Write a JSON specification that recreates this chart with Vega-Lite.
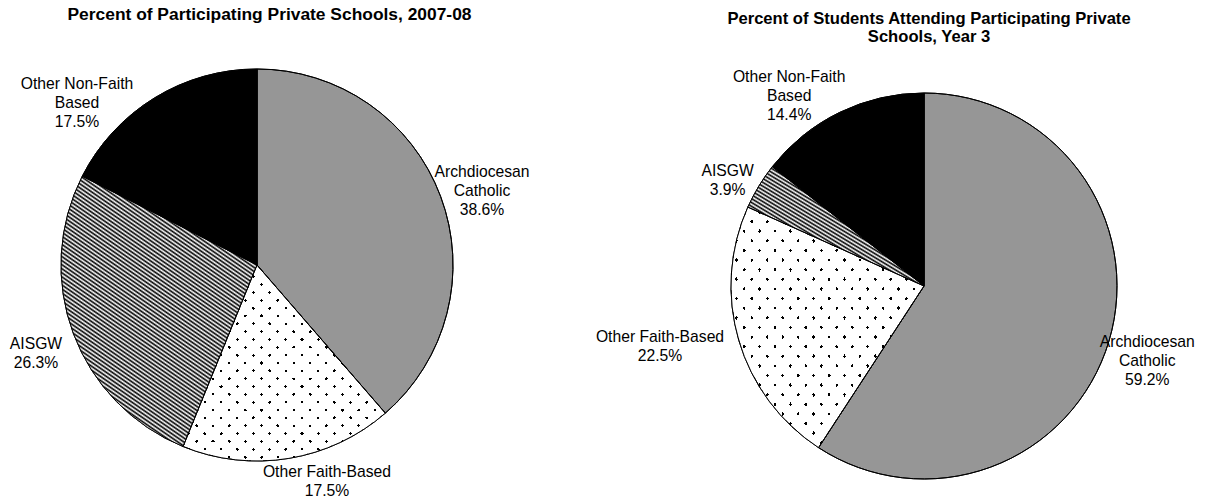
{
 "$schema": "https://vega.github.io/schema/vega-lite/v6.json",
 "padding": {"left": 0, "top": 5, "right": 0, "bottom": 0},
 "background": "white",
 "spacing": 104,
 "bounds": "flush",
 "config": {
  "view": {"stroke": null},
  "title": {"font": "Liberation Sans", "fontWeight": "bold", "color": "#000000", "anchor": "middle"}
 },
 "hconcat": [
  {
   "width": 514, "height": 390,
   "title": {"text": "Percent of Participating Private Schools, 2007-08", "fontSize": 17.4, "offset": 44, "dx": 12.5},
   "data": {"values": [
    {"cat": "Archdiocesan Catholic", "label": "Archdiocesan\nCatholic\n38.6%", "value": 38.6, "ord": 1},
    {"cat": "Other Faith-Based", "label": "Other Faith-Based\n17.5%", "value": 17.5, "ord": 2},
    {"cat": "AISGW", "label": "AISGW\n26.3%", "value": 26.3, "ord": 3},
    {"cat": "Other Non-Faith Based", "label": "Other Non-Faith\nBased\n17.5%", "value": 17.5, "ord": 4}
   ]},
   "encoding": {
    "theta": {"field": "value", "type": "quantitative", "stack": true},
    "order": {"field": "ord", "type": "quantitative"}
   },
   "layer": [
    {"mark": {"type": "arc", "outerRadius": 196, "stroke": "#000000", "strokeWidth": 1},
     "encoding": {"fill": {"condition": [{"test": "datum.cat === 'Archdiocesan Catholic'", "value": "#969696"}, {"test": "datum.cat === 'Other Non-Faith Based'", "value": "#000000"}], "value": "#ffffff"}}},
    {"mark": {"type": "arc", "outerRadius": 196, "strokeWidth": 0,
      "fill": {"gradient": "linear", "x1": 0.2, "y1": 1.1, "x2": 0.8, "y2": -0.1, "stops": [
       {"offset":0,"color":"#000"},{"offset":0.005,"color":"#fff"},{"offset":0.01,"color":"#000"},{"offset":0.015,"color":"#fff"},{"offset":0.02,"color":"#000"},{"offset":0.025,"color":"#fff"},{"offset":0.03,"color":"#000"},{"offset":0.035,"color":"#fff"},{"offset":0.04,"color":"#000"},{"offset":0.045,"color":"#fff"},{"offset":0.05,"color":"#000"},{"offset":0.055,"color":"#fff"},{"offset":0.06,"color":"#000"},{"offset":0.065,"color":"#fff"},{"offset":0.07,"color":"#000"},{"offset":0.075,"color":"#fff"},{"offset":0.08,"color":"#000"},{"offset":0.085,"color":"#fff"},{"offset":0.09,"color":"#000"},{"offset":0.095,"color":"#fff"},
       {"offset":0.1,"color":"#000"},{"offset":0.105,"color":"#fff"},{"offset":0.11,"color":"#000"},{"offset":0.115,"color":"#fff"},{"offset":0.12,"color":"#000"},{"offset":0.125,"color":"#fff"},{"offset":0.13,"color":"#000"},{"offset":0.135,"color":"#fff"},{"offset":0.14,"color":"#000"},{"offset":0.145,"color":"#fff"},{"offset":0.15,"color":"#000"},{"offset":0.155,"color":"#fff"},{"offset":0.16,"color":"#000"},{"offset":0.165,"color":"#fff"},{"offset":0.17,"color":"#000"},{"offset":0.175,"color":"#fff"},{"offset":0.18,"color":"#000"},{"offset":0.185,"color":"#fff"},{"offset":0.19,"color":"#000"},{"offset":0.195,"color":"#fff"},
       {"offset":0.2,"color":"#000"},{"offset":0.205,"color":"#fff"},{"offset":0.21,"color":"#000"},{"offset":0.215,"color":"#fff"},{"offset":0.22,"color":"#000"},{"offset":0.225,"color":"#fff"},{"offset":0.23,"color":"#000"},{"offset":0.235,"color":"#fff"},{"offset":0.24,"color":"#000"},{"offset":0.245,"color":"#fff"},{"offset":0.25,"color":"#000"},{"offset":0.255,"color":"#fff"},{"offset":0.26,"color":"#000"},{"offset":0.265,"color":"#fff"},{"offset":0.27,"color":"#000"},{"offset":0.275,"color":"#fff"},{"offset":0.28,"color":"#000"},{"offset":0.285,"color":"#fff"},{"offset":0.29,"color":"#000"},{"offset":0.295,"color":"#fff"},
       {"offset":0.3,"color":"#000"},{"offset":0.305,"color":"#fff"},{"offset":0.31,"color":"#000"},{"offset":0.315,"color":"#fff"},{"offset":0.32,"color":"#000"},{"offset":0.325,"color":"#fff"},{"offset":0.33,"color":"#000"},{"offset":0.335,"color":"#fff"},{"offset":0.34,"color":"#000"},{"offset":0.345,"color":"#fff"},{"offset":0.35,"color":"#000"},{"offset":0.355,"color":"#fff"},{"offset":0.36,"color":"#000"},{"offset":0.365,"color":"#fff"},{"offset":0.37,"color":"#000"},{"offset":0.375,"color":"#fff"},{"offset":0.38,"color":"#000"},{"offset":0.385,"color":"#fff"},{"offset":0.39,"color":"#000"},{"offset":0.395,"color":"#fff"},
       {"offset":0.4,"color":"#000"},{"offset":0.405,"color":"#fff"},{"offset":0.41,"color":"#000"},{"offset":0.415,"color":"#fff"},{"offset":0.42,"color":"#000"},{"offset":0.425,"color":"#fff"},{"offset":0.43,"color":"#000"},{"offset":0.435,"color":"#fff"},{"offset":0.44,"color":"#000"},{"offset":0.445,"color":"#fff"},{"offset":0.45,"color":"#000"},{"offset":0.455,"color":"#fff"},{"offset":0.46,"color":"#000"},{"offset":0.465,"color":"#fff"},{"offset":0.47,"color":"#000"},{"offset":0.475,"color":"#fff"},{"offset":0.48,"color":"#000"},{"offset":0.485,"color":"#fff"},{"offset":0.49,"color":"#000"},{"offset":0.495,"color":"#fff"},
       {"offset":0.5,"color":"#000"},{"offset":0.505,"color":"#fff"},{"offset":0.51,"color":"#000"},{"offset":0.515,"color":"#fff"},{"offset":0.52,"color":"#000"},{"offset":0.525,"color":"#fff"},{"offset":0.53,"color":"#000"},{"offset":0.535,"color":"#fff"},{"offset":0.54,"color":"#000"},{"offset":0.545,"color":"#fff"},{"offset":0.55,"color":"#000"},{"offset":0.555,"color":"#fff"},{"offset":0.56,"color":"#000"},{"offset":0.565,"color":"#fff"},{"offset":0.57,"color":"#000"},{"offset":0.575,"color":"#fff"},{"offset":0.58,"color":"#000"},{"offset":0.585,"color":"#fff"},{"offset":0.59,"color":"#000"},{"offset":0.595,"color":"#fff"},
       {"offset":0.6,"color":"#000"},{"offset":0.605,"color":"#fff"},{"offset":0.61,"color":"#000"},{"offset":0.615,"color":"#fff"},{"offset":0.62,"color":"#000"},{"offset":0.625,"color":"#fff"},{"offset":0.63,"color":"#000"},{"offset":0.635,"color":"#fff"},{"offset":0.64,"color":"#000"},{"offset":0.645,"color":"#fff"},{"offset":0.65,"color":"#000"},{"offset":0.655,"color":"#fff"},{"offset":0.66,"color":"#000"},{"offset":0.665,"color":"#fff"},{"offset":0.67,"color":"#000"},{"offset":0.675,"color":"#fff"},{"offset":0.68,"color":"#000"},{"offset":0.685,"color":"#fff"},{"offset":0.69,"color":"#000"},{"offset":0.695,"color":"#fff"},
       {"offset":0.7,"color":"#000"},{"offset":0.705,"color":"#fff"},{"offset":0.71,"color":"#000"},{"offset":0.715,"color":"#fff"},{"offset":0.72,"color":"#000"},{"offset":0.725,"color":"#fff"},{"offset":0.73,"color":"#000"},{"offset":0.735,"color":"#fff"},{"offset":0.74,"color":"#000"},{"offset":0.745,"color":"#fff"},{"offset":0.75,"color":"#000"},{"offset":0.755,"color":"#fff"},{"offset":0.76,"color":"#000"},{"offset":0.765,"color":"#fff"},{"offset":0.77,"color":"#000"},{"offset":0.775,"color":"#fff"},{"offset":0.78,"color":"#000"},{"offset":0.785,"color":"#fff"},{"offset":0.79,"color":"#000"},{"offset":0.795,"color":"#fff"},
       {"offset":0.8,"color":"#000"},{"offset":0.805,"color":"#fff"},{"offset":0.81,"color":"#000"},{"offset":0.815,"color":"#fff"},{"offset":0.82,"color":"#000"},{"offset":0.825,"color":"#fff"},{"offset":0.83,"color":"#000"},{"offset":0.835,"color":"#fff"},{"offset":0.84,"color":"#000"},{"offset":0.845,"color":"#fff"},{"offset":0.85,"color":"#000"},{"offset":0.855,"color":"#fff"},{"offset":0.86,"color":"#000"},{"offset":0.865,"color":"#fff"},{"offset":0.87,"color":"#000"},{"offset":0.875,"color":"#fff"},{"offset":0.88,"color":"#000"},{"offset":0.885,"color":"#fff"},{"offset":0.89,"color":"#000"},{"offset":0.895,"color":"#fff"},
       {"offset":0.9,"color":"#000"},{"offset":0.905,"color":"#fff"},{"offset":0.91,"color":"#000"},{"offset":0.915,"color":"#fff"},{"offset":0.92,"color":"#000"},{"offset":0.925,"color":"#fff"},{"offset":0.93,"color":"#000"},{"offset":0.935,"color":"#fff"},{"offset":0.94,"color":"#000"},{"offset":0.945,"color":"#fff"},{"offset":0.95,"color":"#000"},{"offset":0.955,"color":"#fff"},{"offset":0.96,"color":"#000"},{"offset":0.965,"color":"#fff"},{"offset":0.97,"color":"#000"},{"offset":0.975,"color":"#fff"},{"offset":0.98,"color":"#000"},{"offset":0.985,"color":"#fff"},{"offset":0.99,"color":"#000"},{"offset":0.995,"color":"#fff"},
       {"offset":1,"color":"#000"}
      ]}},
     "encoding": {"fillOpacity": {"condition": {"test": "datum.cat === 'AISGW'", "value": 1}, "value": 0}}},
    {"mark": {"type": "arc", "outerRadius": 196, "strokeWidth": 0,
      "fill": {"gradient": "linear", "x1": 0, "y1": 0, "x2": 1, "y2": 1, "stops": [
       {"offset":0,"color":"#000"},{"offset":0.008,"color":"#000"},{"offset":0.008,"color":"rgba(0,0,0,0)"},{"offset":0.04,"color":"rgba(0,0,0,0)"},
       {"offset":0.04,"color":"#000"},{"offset":0.048,"color":"#000"},{"offset":0.048,"color":"rgba(0,0,0,0)"},{"offset":0.08,"color":"rgba(0,0,0,0)"},
       {"offset":0.08,"color":"#000"},{"offset":0.088,"color":"#000"},{"offset":0.088,"color":"rgba(0,0,0,0)"},{"offset":0.12,"color":"rgba(0,0,0,0)"},
       {"offset":0.12,"color":"#000"},{"offset":0.128,"color":"#000"},{"offset":0.128,"color":"rgba(0,0,0,0)"},{"offset":0.16,"color":"rgba(0,0,0,0)"},
       {"offset":0.16,"color":"#000"},{"offset":0.168,"color":"#000"},{"offset":0.168,"color":"rgba(0,0,0,0)"},{"offset":0.2,"color":"rgba(0,0,0,0)"},
       {"offset":0.2,"color":"#000"},{"offset":0.208,"color":"#000"},{"offset":0.208,"color":"rgba(0,0,0,0)"},{"offset":0.24,"color":"rgba(0,0,0,0)"},
       {"offset":0.24,"color":"#000"},{"offset":0.248,"color":"#000"},{"offset":0.248,"color":"rgba(0,0,0,0)"},{"offset":0.28,"color":"rgba(0,0,0,0)"},
       {"offset":0.28,"color":"#000"},{"offset":0.288,"color":"#000"},{"offset":0.288,"color":"rgba(0,0,0,0)"},{"offset":0.32,"color":"rgba(0,0,0,0)"},
       {"offset":0.32,"color":"#000"},{"offset":0.328,"color":"#000"},{"offset":0.328,"color":"rgba(0,0,0,0)"},{"offset":0.36,"color":"rgba(0,0,0,0)"},
       {"offset":0.36,"color":"#000"},{"offset":0.368,"color":"#000"},{"offset":0.368,"color":"rgba(0,0,0,0)"},{"offset":0.4,"color":"rgba(0,0,0,0)"},
       {"offset":0.4,"color":"#000"},{"offset":0.408,"color":"#000"},{"offset":0.408,"color":"rgba(0,0,0,0)"},{"offset":0.44,"color":"rgba(0,0,0,0)"},
       {"offset":0.44,"color":"#000"},{"offset":0.448,"color":"#000"},{"offset":0.448,"color":"rgba(0,0,0,0)"},{"offset":0.48,"color":"rgba(0,0,0,0)"},
       {"offset":0.48,"color":"#000"},{"offset":0.488,"color":"#000"},{"offset":0.488,"color":"rgba(0,0,0,0)"},{"offset":0.52,"color":"rgba(0,0,0,0)"},
       {"offset":0.52,"color":"#000"},{"offset":0.528,"color":"#000"},{"offset":0.528,"color":"rgba(0,0,0,0)"},{"offset":0.56,"color":"rgba(0,0,0,0)"},
       {"offset":0.56,"color":"#000"},{"offset":0.568,"color":"#000"},{"offset":0.568,"color":"rgba(0,0,0,0)"},{"offset":0.6,"color":"rgba(0,0,0,0)"},
       {"offset":0.6,"color":"#000"},{"offset":0.608,"color":"#000"},{"offset":0.608,"color":"rgba(0,0,0,0)"},{"offset":0.64,"color":"rgba(0,0,0,0)"},
       {"offset":0.64,"color":"#000"},{"offset":0.648,"color":"#000"},{"offset":0.648,"color":"rgba(0,0,0,0)"},{"offset":0.68,"color":"rgba(0,0,0,0)"},
       {"offset":0.68,"color":"#000"},{"offset":0.688,"color":"#000"},{"offset":0.688,"color":"rgba(0,0,0,0)"},{"offset":0.72,"color":"rgba(0,0,0,0)"},
       {"offset":0.72,"color":"#000"},{"offset":0.728,"color":"#000"},{"offset":0.728,"color":"rgba(0,0,0,0)"},{"offset":0.76,"color":"rgba(0,0,0,0)"},
       {"offset":0.76,"color":"#000"},{"offset":0.768,"color":"#000"},{"offset":0.768,"color":"rgba(0,0,0,0)"},{"offset":0.8,"color":"rgba(0,0,0,0)"},
       {"offset":0.8,"color":"#000"},{"offset":0.808,"color":"#000"},{"offset":0.808,"color":"rgba(0,0,0,0)"},{"offset":0.84,"color":"rgba(0,0,0,0)"},
       {"offset":0.84,"color":"#000"},{"offset":0.848,"color":"#000"},{"offset":0.848,"color":"rgba(0,0,0,0)"},{"offset":0.88,"color":"rgba(0,0,0,0)"},
       {"offset":0.88,"color":"#000"},{"offset":0.888,"color":"#000"},{"offset":0.888,"color":"rgba(0,0,0,0)"},{"offset":0.92,"color":"rgba(0,0,0,0)"},
       {"offset":0.92,"color":"#000"},{"offset":0.928,"color":"#000"},{"offset":0.928,"color":"rgba(0,0,0,0)"},{"offset":0.96,"color":"rgba(0,0,0,0)"},
       {"offset":0.96,"color":"#000"},{"offset":0.968,"color":"#000"},{"offset":0.968,"color":"rgba(0,0,0,0)"},{"offset":1,"color":"rgba(0,0,0,0)"}
      ]}},
     "encoding": {"fillOpacity": {"condition": {"test": "datum.cat === 'Other Faith-Based'", "value": 1}, "value": 0}}},
    {"mark": {"type": "arc", "outerRadius": 196, "strokeWidth": 0,
      "fill": {"gradient": "linear", "x1": 0, "y1": 1, "x2": 1, "y2": 0, "stops": [
       {"offset":0,"color":"rgba(255,255,255,0)"},{"offset":0.008,"color":"rgba(255,255,255,0)"},{"offset":0.008,"color":"#fff"},{"offset":0.04,"color":"#fff"},
       {"offset":0.04,"color":"rgba(255,255,255,0)"},{"offset":0.048,"color":"rgba(255,255,255,0)"},{"offset":0.048,"color":"#fff"},{"offset":0.08,"color":"#fff"},
       {"offset":0.08,"color":"rgba(255,255,255,0)"},{"offset":0.088,"color":"rgba(255,255,255,0)"},{"offset":0.088,"color":"#fff"},{"offset":0.12,"color":"#fff"},
       {"offset":0.12,"color":"rgba(255,255,255,0)"},{"offset":0.128,"color":"rgba(255,255,255,0)"},{"offset":0.128,"color":"#fff"},{"offset":0.16,"color":"#fff"},
       {"offset":0.16,"color":"rgba(255,255,255,0)"},{"offset":0.168,"color":"rgba(255,255,255,0)"},{"offset":0.168,"color":"#fff"},{"offset":0.2,"color":"#fff"},
       {"offset":0.2,"color":"rgba(255,255,255,0)"},{"offset":0.208,"color":"rgba(255,255,255,0)"},{"offset":0.208,"color":"#fff"},{"offset":0.24,"color":"#fff"},
       {"offset":0.24,"color":"rgba(255,255,255,0)"},{"offset":0.248,"color":"rgba(255,255,255,0)"},{"offset":0.248,"color":"#fff"},{"offset":0.28,"color":"#fff"},
       {"offset":0.28,"color":"rgba(255,255,255,0)"},{"offset":0.288,"color":"rgba(255,255,255,0)"},{"offset":0.288,"color":"#fff"},{"offset":0.32,"color":"#fff"},
       {"offset":0.32,"color":"rgba(255,255,255,0)"},{"offset":0.328,"color":"rgba(255,255,255,0)"},{"offset":0.328,"color":"#fff"},{"offset":0.36,"color":"#fff"},
       {"offset":0.36,"color":"rgba(255,255,255,0)"},{"offset":0.368,"color":"rgba(255,255,255,0)"},{"offset":0.368,"color":"#fff"},{"offset":0.4,"color":"#fff"},
       {"offset":0.4,"color":"rgba(255,255,255,0)"},{"offset":0.408,"color":"rgba(255,255,255,0)"},{"offset":0.408,"color":"#fff"},{"offset":0.44,"color":"#fff"},
       {"offset":0.44,"color":"rgba(255,255,255,0)"},{"offset":0.448,"color":"rgba(255,255,255,0)"},{"offset":0.448,"color":"#fff"},{"offset":0.48,"color":"#fff"},
       {"offset":0.48,"color":"rgba(255,255,255,0)"},{"offset":0.488,"color":"rgba(255,255,255,0)"},{"offset":0.488,"color":"#fff"},{"offset":0.52,"color":"#fff"},
       {"offset":0.52,"color":"rgba(255,255,255,0)"},{"offset":0.528,"color":"rgba(255,255,255,0)"},{"offset":0.528,"color":"#fff"},{"offset":0.56,"color":"#fff"},
       {"offset":0.56,"color":"rgba(255,255,255,0)"},{"offset":0.568,"color":"rgba(255,255,255,0)"},{"offset":0.568,"color":"#fff"},{"offset":0.6,"color":"#fff"},
       {"offset":0.6,"color":"rgba(255,255,255,0)"},{"offset":0.608,"color":"rgba(255,255,255,0)"},{"offset":0.608,"color":"#fff"},{"offset":0.64,"color":"#fff"},
       {"offset":0.64,"color":"rgba(255,255,255,0)"},{"offset":0.648,"color":"rgba(255,255,255,0)"},{"offset":0.648,"color":"#fff"},{"offset":0.68,"color":"#fff"},
       {"offset":0.68,"color":"rgba(255,255,255,0)"},{"offset":0.688,"color":"rgba(255,255,255,0)"},{"offset":0.688,"color":"#fff"},{"offset":0.72,"color":"#fff"},
       {"offset":0.72,"color":"rgba(255,255,255,0)"},{"offset":0.728,"color":"rgba(255,255,255,0)"},{"offset":0.728,"color":"#fff"},{"offset":0.76,"color":"#fff"},
       {"offset":0.76,"color":"rgba(255,255,255,0)"},{"offset":0.768,"color":"rgba(255,255,255,0)"},{"offset":0.768,"color":"#fff"},{"offset":0.8,"color":"#fff"},
       {"offset":0.8,"color":"rgba(255,255,255,0)"},{"offset":0.808,"color":"rgba(255,255,255,0)"},{"offset":0.808,"color":"#fff"},{"offset":0.84,"color":"#fff"},
       {"offset":0.84,"color":"rgba(255,255,255,0)"},{"offset":0.848,"color":"rgba(255,255,255,0)"},{"offset":0.848,"color":"#fff"},{"offset":0.88,"color":"#fff"},
       {"offset":0.88,"color":"rgba(255,255,255,0)"},{"offset":0.888,"color":"rgba(255,255,255,0)"},{"offset":0.888,"color":"#fff"},{"offset":0.92,"color":"#fff"},
       {"offset":0.92,"color":"rgba(255,255,255,0)"},{"offset":0.928,"color":"rgba(255,255,255,0)"},{"offset":0.928,"color":"#fff"},{"offset":0.96,"color":"#fff"},
       {"offset":0.96,"color":"rgba(255,255,255,0)"},{"offset":0.968,"color":"rgba(255,255,255,0)"},{"offset":0.968,"color":"#fff"},{"offset":1,"color":"#fff"}
      ]}},
     "encoding": {"fillOpacity": {"condition": {"test": "datum.cat === 'Other Faith-Based'", "value": 1}, "value": 0}}},
    {"mark": {"type": "arc", "outerRadius": 196, "fillOpacity": 0, "stroke": "#000000", "strokeWidth": 1}},
    {"mark": {"type": "text", "radius": 170, "dx": 65.7, "dy": -33.6, "lineBreak": "\n", "font": "Liberation Sans", "fontSize": 15.7, "lineHeight": 19, "align": "center", "baseline": "middle", "color": "#000000"},
     "encoding": {"text": {"field": "label", "type": "nominal"}, "opacity": {"condition": {"test": "datum.cat === 'Archdiocesan Catholic'", "value": 1}, "value": 0}}},
    {"mark": {"type": "text", "radius": 210, "dx": 35.8, "dy": -0.2, "lineBreak": "\n", "font": "Liberation Sans", "fontSize": 15.7, "lineHeight": 19, "align": "center", "baseline": "middle", "color": "#000000"},
     "encoding": {"text": {"field": "label", "type": "nominal"}, "opacity": {"condition": {"test": "datum.cat === 'Other Faith-Based'", "value": 1}, "value": 0}}},
    {"mark": {"type": "text", "radius": 200, "dx": -33.6, "dy": 9.1, "lineBreak": "\n", "font": "Liberation Sans", "fontSize": 15.7, "lineHeight": 19, "align": "center", "baseline": "middle", "color": "#000000"},
     "encoding": {"text": {"field": "label", "type": "nominal"}, "opacity": {"condition": {"test": "datum.cat === 'AISGW'", "value": 1}, "value": 0}}},
    {"mark": {"type": "text", "radius": 110, "dx": -122.5, "dy": -86.8, "lineBreak": "\n", "font": "Liberation Sans", "fontSize": 15.7, "lineHeight": 19, "align": "center", "baseline": "middle", "color": "#000000"},
     "encoding": {"text": {"field": "label", "type": "nominal"}, "opacity": {"condition": {"test": "datum.cat === 'Other Non-Faith Based'", "value": 1}, "value": 0}}}
   ]
  },
  {
   "width": 612, "height": 432,
   "title": {"text": ["Percent of Students Attending Participating Private", "Schools, Year 3"], "fontSize": 16.6, "lineHeight": 18, "offset": 23, "dx": 5},
   "data": {"values": [
    {"cat": "Archdiocesan Catholic", "label": "Archdiocesan\nCatholic\n59.2%", "value": 59.2, "ord": 1},
    {"cat": "Other Faith-Based", "label": "Other Faith-Based\n22.5%", "value": 22.5, "ord": 2},
    {"cat": "AISGW", "label": "AISGW\n3.9%", "value": 3.9, "ord": 3},
    {"cat": "Other Non-Faith Based", "label": "Other Non-Faith\nBased\n14.4%", "value": 14.4, "ord": 4}
   ]},
   "encoding": {
    "theta": {"field": "value", "type": "quantitative", "stack": true},
    "order": {"field": "ord", "type": "quantitative"}
   },
   "layer": [
    {"mark": {"type": "arc", "outerRadius": 193, "stroke": "#000000", "strokeWidth": 1},
     "encoding": {"fill": {"condition": [{"test": "datum.cat === 'Archdiocesan Catholic'", "value": "#969696"}, {"test": "datum.cat === 'Other Non-Faith Based'", "value": "#000000"}], "value": "#ffffff"}}},
    {"mark": {"type": "arc", "outerRadius": 193, "strokeWidth": 0,
      "fill": {"gradient": "linear", "x1": 0.1, "y1": 0.95, "x2": 0.9, "y2": 0.05, "stops": [
       {"offset":0,"color":"#000"},{"offset":0.01,"color":"#fff"},{"offset":0.02,"color":"#000"},{"offset":0.03,"color":"#fff"},{"offset":0.04,"color":"#000"},{"offset":0.05,"color":"#fff"},{"offset":0.06,"color":"#000"},{"offset":0.07,"color":"#fff"},{"offset":0.08,"color":"#000"},{"offset":0.09,"color":"#fff"},
       {"offset":0.1,"color":"#000"},{"offset":0.11,"color":"#fff"},{"offset":0.12,"color":"#000"},{"offset":0.13,"color":"#fff"},{"offset":0.14,"color":"#000"},{"offset":0.15,"color":"#fff"},{"offset":0.16,"color":"#000"},{"offset":0.17,"color":"#fff"},{"offset":0.18,"color":"#000"},{"offset":0.19,"color":"#fff"},
       {"offset":0.2,"color":"#000"},{"offset":0.21,"color":"#fff"},{"offset":0.22,"color":"#000"},{"offset":0.23,"color":"#fff"},{"offset":0.24,"color":"#000"},{"offset":0.25,"color":"#fff"},{"offset":0.26,"color":"#000"},{"offset":0.27,"color":"#fff"},{"offset":0.28,"color":"#000"},{"offset":0.29,"color":"#fff"},
       {"offset":0.3,"color":"#000"},{"offset":0.31,"color":"#fff"},{"offset":0.32,"color":"#000"},{"offset":0.33,"color":"#fff"},{"offset":0.34,"color":"#000"},{"offset":0.35,"color":"#fff"},{"offset":0.36,"color":"#000"},{"offset":0.37,"color":"#fff"},{"offset":0.38,"color":"#000"},{"offset":0.39,"color":"#fff"},
       {"offset":0.4,"color":"#000"},{"offset":0.41,"color":"#fff"},{"offset":0.42,"color":"#000"},{"offset":0.43,"color":"#fff"},{"offset":0.44,"color":"#000"},{"offset":0.45,"color":"#fff"},{"offset":0.46,"color":"#000"},{"offset":0.47,"color":"#fff"},{"offset":0.48,"color":"#000"},{"offset":0.49,"color":"#fff"},
       {"offset":0.5,"color":"#000"},{"offset":0.51,"color":"#fff"},{"offset":0.52,"color":"#000"},{"offset":0.53,"color":"#fff"},{"offset":0.54,"color":"#000"},{"offset":0.55,"color":"#fff"},{"offset":0.56,"color":"#000"},{"offset":0.57,"color":"#fff"},{"offset":0.58,"color":"#000"},{"offset":0.59,"color":"#fff"},
       {"offset":0.6,"color":"#000"},{"offset":0.61,"color":"#fff"},{"offset":0.62,"color":"#000"},{"offset":0.63,"color":"#fff"},{"offset":0.64,"color":"#000"},{"offset":0.65,"color":"#fff"},{"offset":0.66,"color":"#000"},{"offset":0.67,"color":"#fff"},{"offset":0.68,"color":"#000"},{"offset":0.69,"color":"#fff"},
       {"offset":0.7,"color":"#000"},{"offset":0.71,"color":"#fff"},{"offset":0.72,"color":"#000"},{"offset":0.73,"color":"#fff"},{"offset":0.74,"color":"#000"},{"offset":0.75,"color":"#fff"},{"offset":0.76,"color":"#000"},{"offset":0.77,"color":"#fff"},{"offset":0.78,"color":"#000"},{"offset":0.79,"color":"#fff"},
       {"offset":0.8,"color":"#000"},{"offset":0.81,"color":"#fff"},{"offset":0.82,"color":"#000"},{"offset":0.83,"color":"#fff"},{"offset":0.84,"color":"#000"},{"offset":0.85,"color":"#fff"},{"offset":0.86,"color":"#000"},{"offset":0.87,"color":"#fff"},{"offset":0.88,"color":"#000"},{"offset":0.89,"color":"#fff"},
       {"offset":0.9,"color":"#000"},{"offset":0.91,"color":"#fff"},{"offset":0.92,"color":"#000"},{"offset":0.93,"color":"#fff"},{"offset":0.94,"color":"#000"},{"offset":0.95,"color":"#fff"},{"offset":0.96,"color":"#000"},{"offset":0.97,"color":"#fff"},{"offset":0.98,"color":"#000"},{"offset":0.99,"color":"#fff"},
       {"offset":1,"color":"#000"}
      ]}},
     "encoding": {"fillOpacity": {"condition": {"test": "datum.cat === 'AISGW'", "value": 1}, "value": 0}}},
    {"mark": {"type": "arc", "outerRadius": 193, "strokeWidth": 0,
      "fill": {"gradient": "linear", "x1": 0, "y1": 0, "x2": 1, "y2": 1, "stops": [
       {"offset":0,"color":"#000"},{"offset":0.008,"color":"#000"},{"offset":0.008,"color":"rgba(0,0,0,0)"},{"offset":0.04,"color":"rgba(0,0,0,0)"},
       {"offset":0.04,"color":"#000"},{"offset":0.048,"color":"#000"},{"offset":0.048,"color":"rgba(0,0,0,0)"},{"offset":0.08,"color":"rgba(0,0,0,0)"},
       {"offset":0.08,"color":"#000"},{"offset":0.088,"color":"#000"},{"offset":0.088,"color":"rgba(0,0,0,0)"},{"offset":0.12,"color":"rgba(0,0,0,0)"},
       {"offset":0.12,"color":"#000"},{"offset":0.128,"color":"#000"},{"offset":0.128,"color":"rgba(0,0,0,0)"},{"offset":0.16,"color":"rgba(0,0,0,0)"},
       {"offset":0.16,"color":"#000"},{"offset":0.168,"color":"#000"},{"offset":0.168,"color":"rgba(0,0,0,0)"},{"offset":0.2,"color":"rgba(0,0,0,0)"},
       {"offset":0.2,"color":"#000"},{"offset":0.208,"color":"#000"},{"offset":0.208,"color":"rgba(0,0,0,0)"},{"offset":0.24,"color":"rgba(0,0,0,0)"},
       {"offset":0.24,"color":"#000"},{"offset":0.248,"color":"#000"},{"offset":0.248,"color":"rgba(0,0,0,0)"},{"offset":0.28,"color":"rgba(0,0,0,0)"},
       {"offset":0.28,"color":"#000"},{"offset":0.288,"color":"#000"},{"offset":0.288,"color":"rgba(0,0,0,0)"},{"offset":0.32,"color":"rgba(0,0,0,0)"},
       {"offset":0.32,"color":"#000"},{"offset":0.328,"color":"#000"},{"offset":0.328,"color":"rgba(0,0,0,0)"},{"offset":0.36,"color":"rgba(0,0,0,0)"},
       {"offset":0.36,"color":"#000"},{"offset":0.368,"color":"#000"},{"offset":0.368,"color":"rgba(0,0,0,0)"},{"offset":0.4,"color":"rgba(0,0,0,0)"},
       {"offset":0.4,"color":"#000"},{"offset":0.408,"color":"#000"},{"offset":0.408,"color":"rgba(0,0,0,0)"},{"offset":0.44,"color":"rgba(0,0,0,0)"},
       {"offset":0.44,"color":"#000"},{"offset":0.448,"color":"#000"},{"offset":0.448,"color":"rgba(0,0,0,0)"},{"offset":0.48,"color":"rgba(0,0,0,0)"},
       {"offset":0.48,"color":"#000"},{"offset":0.488,"color":"#000"},{"offset":0.488,"color":"rgba(0,0,0,0)"},{"offset":0.52,"color":"rgba(0,0,0,0)"},
       {"offset":0.52,"color":"#000"},{"offset":0.528,"color":"#000"},{"offset":0.528,"color":"rgba(0,0,0,0)"},{"offset":0.56,"color":"rgba(0,0,0,0)"},
       {"offset":0.56,"color":"#000"},{"offset":0.568,"color":"#000"},{"offset":0.568,"color":"rgba(0,0,0,0)"},{"offset":0.6,"color":"rgba(0,0,0,0)"},
       {"offset":0.6,"color":"#000"},{"offset":0.608,"color":"#000"},{"offset":0.608,"color":"rgba(0,0,0,0)"},{"offset":0.64,"color":"rgba(0,0,0,0)"},
       {"offset":0.64,"color":"#000"},{"offset":0.648,"color":"#000"},{"offset":0.648,"color":"rgba(0,0,0,0)"},{"offset":0.68,"color":"rgba(0,0,0,0)"},
       {"offset":0.68,"color":"#000"},{"offset":0.688,"color":"#000"},{"offset":0.688,"color":"rgba(0,0,0,0)"},{"offset":0.72,"color":"rgba(0,0,0,0)"},
       {"offset":0.72,"color":"#000"},{"offset":0.728,"color":"#000"},{"offset":0.728,"color":"rgba(0,0,0,0)"},{"offset":0.76,"color":"rgba(0,0,0,0)"},
       {"offset":0.76,"color":"#000"},{"offset":0.768,"color":"#000"},{"offset":0.768,"color":"rgba(0,0,0,0)"},{"offset":0.8,"color":"rgba(0,0,0,0)"},
       {"offset":0.8,"color":"#000"},{"offset":0.808,"color":"#000"},{"offset":0.808,"color":"rgba(0,0,0,0)"},{"offset":0.84,"color":"rgba(0,0,0,0)"},
       {"offset":0.84,"color":"#000"},{"offset":0.848,"color":"#000"},{"offset":0.848,"color":"rgba(0,0,0,0)"},{"offset":0.88,"color":"rgba(0,0,0,0)"},
       {"offset":0.88,"color":"#000"},{"offset":0.888,"color":"#000"},{"offset":0.888,"color":"rgba(0,0,0,0)"},{"offset":0.92,"color":"rgba(0,0,0,0)"},
       {"offset":0.92,"color":"#000"},{"offset":0.928,"color":"#000"},{"offset":0.928,"color":"rgba(0,0,0,0)"},{"offset":0.96,"color":"rgba(0,0,0,0)"},
       {"offset":0.96,"color":"#000"},{"offset":0.968,"color":"#000"},{"offset":0.968,"color":"rgba(0,0,0,0)"},{"offset":1,"color":"rgba(0,0,0,0)"}
      ]}},
     "encoding": {"fillOpacity": {"condition": {"test": "datum.cat === 'Other Faith-Based'", "value": 1}, "value": 0}}},
    {"mark": {"type": "arc", "outerRadius": 193, "strokeWidth": 0,
      "fill": {"gradient": "linear", "x1": 0, "y1": 1, "x2": 1, "y2": 0, "stops": [
       {"offset":0,"color":"rgba(255,255,255,0)"},{"offset":0.008,"color":"rgba(255,255,255,0)"},{"offset":0.008,"color":"#fff"},{"offset":0.04,"color":"#fff"},
       {"offset":0.04,"color":"rgba(255,255,255,0)"},{"offset":0.048,"color":"rgba(255,255,255,0)"},{"offset":0.048,"color":"#fff"},{"offset":0.08,"color":"#fff"},
       {"offset":0.08,"color":"rgba(255,255,255,0)"},{"offset":0.088,"color":"rgba(255,255,255,0)"},{"offset":0.088,"color":"#fff"},{"offset":0.12,"color":"#fff"},
       {"offset":0.12,"color":"rgba(255,255,255,0)"},{"offset":0.128,"color":"rgba(255,255,255,0)"},{"offset":0.128,"color":"#fff"},{"offset":0.16,"color":"#fff"},
       {"offset":0.16,"color":"rgba(255,255,255,0)"},{"offset":0.168,"color":"rgba(255,255,255,0)"},{"offset":0.168,"color":"#fff"},{"offset":0.2,"color":"#fff"},
       {"offset":0.2,"color":"rgba(255,255,255,0)"},{"offset":0.208,"color":"rgba(255,255,255,0)"},{"offset":0.208,"color":"#fff"},{"offset":0.24,"color":"#fff"},
       {"offset":0.24,"color":"rgba(255,255,255,0)"},{"offset":0.248,"color":"rgba(255,255,255,0)"},{"offset":0.248,"color":"#fff"},{"offset":0.28,"color":"#fff"},
       {"offset":0.28,"color":"rgba(255,255,255,0)"},{"offset":0.288,"color":"rgba(255,255,255,0)"},{"offset":0.288,"color":"#fff"},{"offset":0.32,"color":"#fff"},
       {"offset":0.32,"color":"rgba(255,255,255,0)"},{"offset":0.328,"color":"rgba(255,255,255,0)"},{"offset":0.328,"color":"#fff"},{"offset":0.36,"color":"#fff"},
       {"offset":0.36,"color":"rgba(255,255,255,0)"},{"offset":0.368,"color":"rgba(255,255,255,0)"},{"offset":0.368,"color":"#fff"},{"offset":0.4,"color":"#fff"},
       {"offset":0.4,"color":"rgba(255,255,255,0)"},{"offset":0.408,"color":"rgba(255,255,255,0)"},{"offset":0.408,"color":"#fff"},{"offset":0.44,"color":"#fff"},
       {"offset":0.44,"color":"rgba(255,255,255,0)"},{"offset":0.448,"color":"rgba(255,255,255,0)"},{"offset":0.448,"color":"#fff"},{"offset":0.48,"color":"#fff"},
       {"offset":0.48,"color":"rgba(255,255,255,0)"},{"offset":0.488,"color":"rgba(255,255,255,0)"},{"offset":0.488,"color":"#fff"},{"offset":0.52,"color":"#fff"},
       {"offset":0.52,"color":"rgba(255,255,255,0)"},{"offset":0.528,"color":"rgba(255,255,255,0)"},{"offset":0.528,"color":"#fff"},{"offset":0.56,"color":"#fff"},
       {"offset":0.56,"color":"rgba(255,255,255,0)"},{"offset":0.568,"color":"rgba(255,255,255,0)"},{"offset":0.568,"color":"#fff"},{"offset":0.6,"color":"#fff"},
       {"offset":0.6,"color":"rgba(255,255,255,0)"},{"offset":0.608,"color":"rgba(255,255,255,0)"},{"offset":0.608,"color":"#fff"},{"offset":0.64,"color":"#fff"},
       {"offset":0.64,"color":"rgba(255,255,255,0)"},{"offset":0.648,"color":"rgba(255,255,255,0)"},{"offset":0.648,"color":"#fff"},{"offset":0.68,"color":"#fff"},
       {"offset":0.68,"color":"rgba(255,255,255,0)"},{"offset":0.688,"color":"rgba(255,255,255,0)"},{"offset":0.688,"color":"#fff"},{"offset":0.72,"color":"#fff"},
       {"offset":0.72,"color":"rgba(255,255,255,0)"},{"offset":0.728,"color":"rgba(255,255,255,0)"},{"offset":0.728,"color":"#fff"},{"offset":0.76,"color":"#fff"},
       {"offset":0.76,"color":"rgba(255,255,255,0)"},{"offset":0.768,"color":"rgba(255,255,255,0)"},{"offset":0.768,"color":"#fff"},{"offset":0.8,"color":"#fff"},
       {"offset":0.8,"color":"rgba(255,255,255,0)"},{"offset":0.808,"color":"rgba(255,255,255,0)"},{"offset":0.808,"color":"#fff"},{"offset":0.84,"color":"#fff"},
       {"offset":0.84,"color":"rgba(255,255,255,0)"},{"offset":0.848,"color":"rgba(255,255,255,0)"},{"offset":0.848,"color":"#fff"},{"offset":0.88,"color":"#fff"},
       {"offset":0.88,"color":"rgba(255,255,255,0)"},{"offset":0.888,"color":"rgba(255,255,255,0)"},{"offset":0.888,"color":"#fff"},{"offset":0.92,"color":"#fff"},
       {"offset":0.92,"color":"rgba(255,255,255,0)"},{"offset":0.928,"color":"rgba(255,255,255,0)"},{"offset":0.928,"color":"#fff"},{"offset":0.96,"color":"#fff"},
       {"offset":0.96,"color":"rgba(255,255,255,0)"},{"offset":0.968,"color":"rgba(255,255,255,0)"},{"offset":0.968,"color":"#fff"},{"offset":1,"color":"#fff"}
      ]}},
     "encoding": {"fillOpacity": {"condition": {"test": "datum.cat === 'Other Faith-Based'", "value": 1}, "value": 0}}},
    {"mark": {"type": "arc", "outerRadius": 193, "fillOpacity": 0, "stroke": "#000000", "strokeWidth": 1}},
    {"mark": {"type": "text", "radius": 215, "dx": 17.2, "dy": -4.9, "lineBreak": "\n", "font": "Liberation Sans", "fontSize": 15.7, "lineHeight": 19, "align": "center", "baseline": "middle", "color": "#000000"},
     "encoding": {"text": {"field": "label", "type": "nominal"}, "opacity": {"condition": {"test": "datum.cat === 'Archdiocesan Catholic'", "value": 1}, "value": 0}}},
    {"mark": {"type": "text", "radius": 180, "dx": -91.3, "dy": 0.2, "lineBreak": "\n", "font": "Liberation Sans", "fontSize": 15.7, "lineHeight": 19, "align": "center", "baseline": "middle", "color": "#000000"},
     "encoding": {"text": {"field": "label", "type": "nominal"}, "opacity": {"condition": {"test": "datum.cat === 'Other Faith-Based'", "value": 1}, "value": 0}}},
    {"mark": {"type": "text", "radius": 233, "dx": 3, "dy": 5, "lineBreak": "\n", "font": "Liberation Sans", "fontSize": 15.7, "lineHeight": 19, "align": "center", "baseline": "middle", "color": "#000000"},
     "encoding": {"text": {"field": "label", "type": "nominal"}, "opacity": {"condition": {"test": "datum.cat === 'AISGW'", "value": 1}, "value": 0}}},
    {"mark": {"type": "text", "radius": 233, "dx": -33, "dy": 0.6, "lineBreak": "\n", "font": "Liberation Sans", "fontSize": 15.7, "lineHeight": 19, "align": "center", "baseline": "middle", "color": "#000000"},
     "encoding": {"text": {"field": "label", "type": "nominal"}, "opacity": {"condition": {"test": "datum.cat === 'Other Non-Faith Based'", "value": 1}, "value": 0}}}
   ]
  }
 ]
}
